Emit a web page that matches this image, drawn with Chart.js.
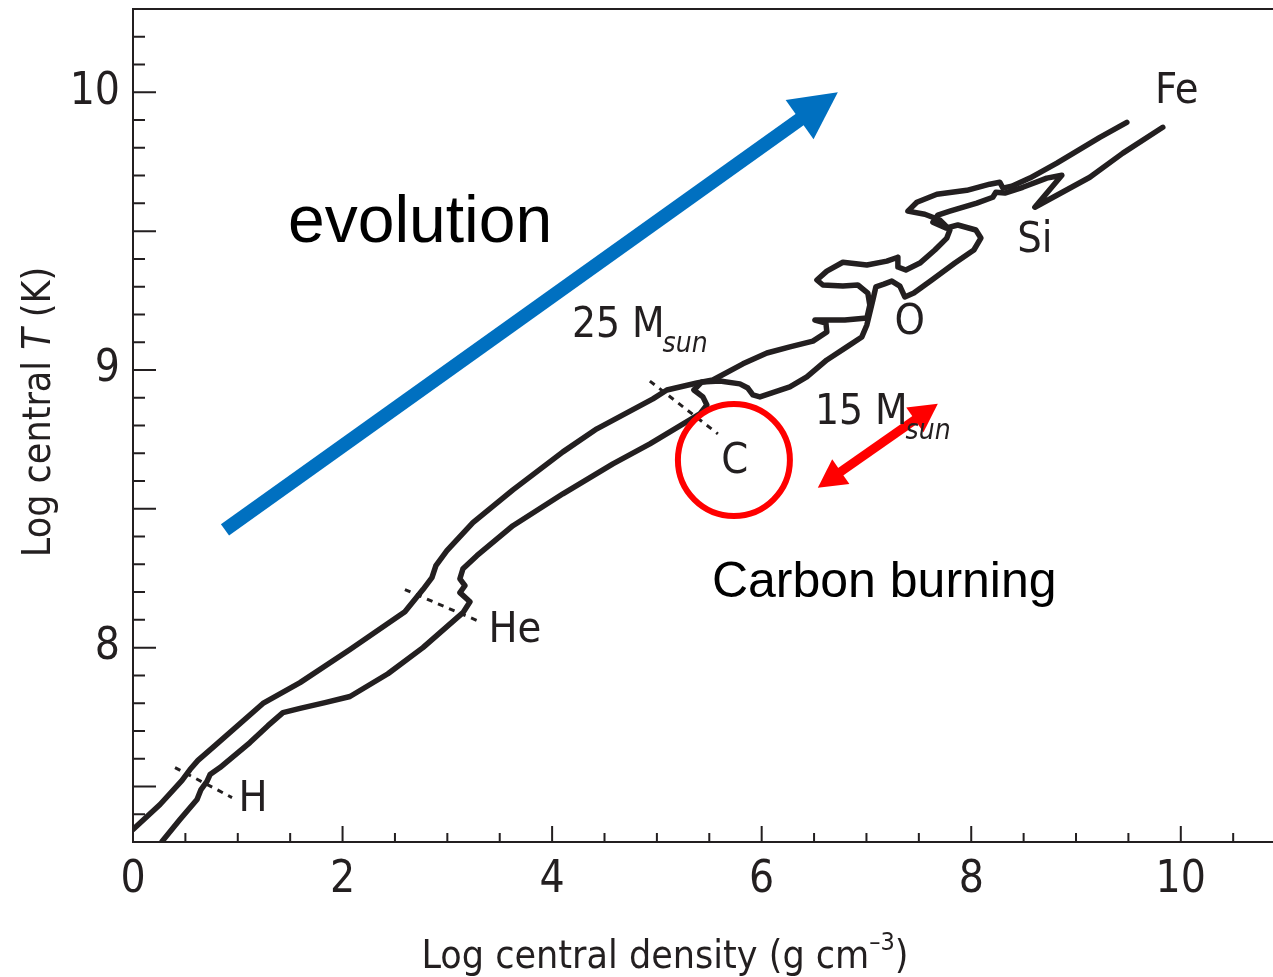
<!DOCTYPE html>
<html>
<head>
<meta charset="utf-8">
<script src="https://cdn.jsdelivr.net/npm/chart.js@4.4.1/dist/chart.umd.min.js"></script>
<style>
  html, body { margin: 0; padding: 0; background: #fff; }
  #chart { display: block; }
</style>
</head>
<body>
<canvas id="chart" width="1273" height="977"></canvas>
<script>
// ---- data ----
const xTickValues = [0, 2, 4, 6, 8, 10];
const yTickValues = [8, 9, 10];
const xMinorTicks = [0.5, 1, 1.5, 2.5, 3, 3.5, 4.5, 5, 5.5, 6.5, 7, 7.5, 8.5, 9, 9.5, 10.5];
const yHalfTicks = [7.5, 8.5, 9.5];
const yMinorTicks = [7.4, 7.6, 7.7, 7.8, 7.9, 8.1, 8.2, 8.3, 8.4, 8.6, 8.7, 8.8, 8.9,
                     9.1, 9.2, 9.3, 9.4, 9.6, 9.7, 9.8, 9.9, 10.1, 10.2];

// 25 Msun track (log rho_c, log T_c)
const track25X = [0, 0.258, 0.468, 0.544, 0.620, 0.782, 1.240, 1.594, 2.071, 2.595,
  2.767, 2.853, 2.891, 2.996, 3.244, 3.626, 4.103, 4.427, 4.962, 5.095,
  5.382, 5.534, 5.821, 6.050, 6.269, 6.489, 6.622, 6.613, 6.508, 6.794,
  7.004, 7.032, 7.013, 6.918, 6.775, 6.584, 6.527, 6.622, 6.775, 7.004,
  7.195, 7.300, 7.300, 7.376, 7.510, 7.653, 7.767, 7.796, 7.700, 7.557,
  7.395, 7.481, 7.672, 7.958, 8.177, 8.273, 8.302, 8.387, 8.559, 8.817,
  9.227, 9.485];
const track25Y = [7.345, 7.435, 7.522, 7.561, 7.594, 7.647, 7.799, 7.874, 7.993, 8.129,
  8.209, 8.252, 8.295, 8.349, 8.450, 8.568, 8.705, 8.788, 8.896, 8.928,
  8.953, 8.964, 9.022, 9.061, 9.083, 9.104, 9.137, 9.169, 9.180, 9.180,
  9.187, 9.234, 9.277, 9.306, 9.302, 9.306, 9.324, 9.356, 9.388, 9.378,
  9.392, 9.406, 9.371, 9.360, 9.385, 9.432, 9.475, 9.504, 9.540, 9.561,
  9.572, 9.604, 9.633, 9.647, 9.669, 9.676, 9.655, 9.662, 9.691, 9.745,
  9.838, 9.892];

// 15 Msun track
const track15X = [0.277, 0.448, 0.611, 0.649, 0.706, 0.735, 0.830, 1.116, 1.288, 1.431,
  1.594, 1.832, 2.071, 2.433, 2.767, 3.149, 3.216, 3.120, 3.168, 3.120,
  3.149, 3.282, 3.626, 4.103, 4.580, 4.933, 5.219, 5.410, 5.477, 5.439,
  5.353, 5.429, 5.601, 5.792, 5.868, 5.916, 5.983, 6.269, 6.431, 6.622,
  6.813, 6.956, 7.004, 7.061, 7.090, 7.166, 7.242, 7.319, 7.366, 7.452,
  7.624, 7.844, 8.025, 8.092, 8.044, 7.872, 7.758, 7.634, 7.681, 7.796,
  8.053, 8.206, 8.235, 8.321, 8.492, 8.721, 8.865, 8.607, 9.132, 9.447,
  9.828];
const track15Y = [7.302, 7.381, 7.453, 7.489, 7.518, 7.543, 7.568, 7.658, 7.719, 7.766,
  7.781, 7.802, 7.824, 7.906, 8.000, 8.126, 8.165, 8.198, 8.223, 8.248,
  8.284, 8.331, 8.439, 8.554, 8.662, 8.734, 8.799, 8.842, 8.874, 8.903,
  8.928, 8.957, 8.960, 8.950, 8.935, 8.910, 8.903, 8.939, 8.975, 9.036,
  9.083, 9.119, 9.162, 9.252, 9.299, 9.309, 9.320, 9.302, 9.263, 9.277,
  9.324, 9.385, 9.432, 9.475, 9.504, 9.522, 9.511, 9.532, 9.558, 9.572,
  9.601, 9.622, 9.640, 9.637, 9.658, 9.691, 9.701, 9.586, 9.694, 9.781,
  9.874];

// burning-stage ignition markers (dotted)
const hMarkX = [0.401, 0.945];
const hMarkY = [7.568, 7.460];
const heMarkX = [2.595, 3.330];
const heMarkY = [8.209, 8.090];
const cMarkX = [4.933, 5.582];
const cMarkY = [8.960, 8.770];

// ---- styling ----
const ink = '#231f20';
const narrow = "'Liberation Sans Narrow', 'DejaVu Sans Condensed', 'Arial Narrow', sans-serif";
const plain = "'Liberation Sans', Arial, sans-serif";

function pts(xs, ys) {
  return xs.map((x, i) => ({ x: x, y: ys[i] }));
}

function trackSet(xs, ys) {
  return {
    data: pts(xs, ys),
    showLine: true,
    borderColor: ink,
    borderWidth: 5.5,
    borderJoinStyle: 'round',
    borderCapStyle: 'round',
    pointRadius: 0,
    tension: 0
  };
}

function markSet(xs, ys) {
  return {
    data: pts(xs, ys),
    showLine: true,
    borderColor: ink,
    borderWidth: 3,
    borderDash: [6, 6],
    pointRadius: 0
  };
}

// annotation places, in data units
const notes = {
  evoArrow: { from: [0.878, 8.424], to: [6.727, 10.0] },
  carbonArrow: { from: [6.536, 8.576], to: [7.681, 8.878] },
  circle: [5.735, 8.676],
  labels: [
    { text: 'Fe', at: [9.962, 10.0] },
    { text: 'Si', at: [8.607, 9.464] },
    { text: 'O', at: [7.414, 9.169] },
    { text: 'C', at: [5.744, 8.669] },
    { text: 'He', at: [3.645, 8.061] },
    { text: 'H', at: [1.145, 7.453] }
  ],
  masses: [
    { text: '25 M', at: [4.189, 9.119] },
    { text: '15 M', at: [6.508, 8.806] }
  ]
};

function arrow(ctx, x0, y0, x1, y1, shaft, headLen, headHalf, both) {
  const ang = Math.atan2(y1 - y0, x1 - x0);
  const c = Math.cos(ang), s = Math.sin(ang);
  const sx0 = both ? x0 + c * headLen * 0.9 : x0;
  const sy0 = both ? y0 + s * headLen * 0.9 : y0;
  ctx.lineWidth = shaft;
  ctx.lineCap = 'butt';
  ctx.beginPath();
  ctx.moveTo(sx0, sy0);
  ctx.lineTo(x1 - c * headLen * 0.9, y1 - s * headLen * 0.9);
  ctx.stroke();
  const head = (tx, ty, dc, ds) => {
    const bx = tx - dc * headLen, by = ty - ds * headLen;
    ctx.beginPath();
    ctx.moveTo(tx, ty);
    ctx.lineTo(bx - ds * headHalf, by + dc * headHalf);
    ctx.lineTo(bx + ds * headHalf, by - dc * headHalf);
    ctx.closePath();
    ctx.fill();
  };
  head(x1, y1, c, s);
  if (both) head(x0, y0, -c, -s);
}

const extras = {
  id: 'extras',
  afterDraw(chart) {
    const { ctx, chartArea: a } = chart;
    const xs = chart.scales.x, ys = chart.scales.y;
    const px = v => xs.getPixelForValue(v);
    const py = v => ys.getPixelForValue(v);
    ctx.save();

    // frame top + inward ticks
    ctx.strokeStyle = ink;
    ctx.lineWidth = 2;
    ctx.beginPath();
    ctx.moveTo(a.left, a.top);
    ctx.lineTo(a.right, a.top);
    xTickValues.forEach(v => { ctx.moveTo(px(v), a.bottom); ctx.lineTo(px(v), a.bottom - 16); });
    xMinorTicks.forEach(v => { ctx.moveTo(px(v), a.bottom); ctx.lineTo(px(v), a.bottom - 9); });
    yTickValues.concat(yHalfTicks).forEach(v => { ctx.moveTo(a.left, py(v)); ctx.lineTo(a.left + 23, py(v)); });
    yMinorTicks.forEach(v => { ctx.moveTo(a.left, py(v)); ctx.lineTo(a.left + 12, py(v)); });
    ctx.stroke();

    // blue evolution arrow
    ctx.strokeStyle = '#0070c0';
    ctx.fillStyle = '#0070c0';
    const e = notes.evoArrow;
    arrow(ctx, px(e.from[0]), py(e.from[1]), px(e.to[0]), py(e.to[1]), 14, 47, 24, false);

    // red circle and double arrow
    ctx.strokeStyle = '#ff0000';
    ctx.fillStyle = '#ff0000';
    ctx.lineWidth = 6;
    ctx.beginPath();
    ctx.arc(px(notes.circle[0]), py(notes.circle[1]), 56, 0, Math.PI * 2);
    ctx.stroke();
    const r = notes.carbonArrow;
    arrow(ctx, px(r.from[0]), py(r.from[1]), px(r.to[0]), py(r.to[1]), 9, 28, 15, true);

    // stage labels
    ctx.fillStyle = ink;
    ctx.font = '43px ' + narrow;
    ctx.textAlign = 'center';
    ctx.textBaseline = 'middle';
    notes.labels.forEach(l => ctx.fillText(l.text, px(l.at[0]), py(l.at[1])));

    ctx.textAlign = 'left';
    ctx.textBaseline = 'alphabetic';
    notes.masses.forEach(m => {
      const x0 = px(m.at[0]), y0 = py(m.at[1]);
      ctx.font = '42px ' + narrow;
      ctx.fillText(m.text, x0, y0);
      const w = ctx.measureText(m.text).width;
      ctx.font = 'italic 28px ' + narrow;
      ctx.fillText('sun', x0 + w - 2, y0 + 15);
    });

    // big annotations
    ctx.fillStyle = '#000';
    ctx.font = '66px ' + plain;
    ctx.fillText('evolution', px(1.479), py(9.460));
    ctx.font = '50px ' + plain;
    ctx.fillText('Carbon burning', px(5.525), py(8.183));

    // axis titles
    ctx.fillStyle = ink;
    ctx.font = '39px ' + narrow;
    const t1 = 'Log central density (g cm', t2 = '\u20133', t3 = ')';
    const w1 = ctx.measureText(t1).width;
    const w3 = ctx.measureText(t3).width;
    ctx.font = '25px ' + narrow;
    const w2 = ctx.measureText(t2).width;
    let x = 665 - (w1 + w2 + w3) / 2;
    const base = 968;
    ctx.font = '39px ' + narrow;
    ctx.fillText(t1, x, base);
    x += w1;
    ctx.font = '25px ' + narrow;
    ctx.fillText(t2, x, base - 18);
    x += w2;
    ctx.font = '39px ' + narrow;
    ctx.fillText(t3, x, base);

    ctx.translate(50, 412);
    ctx.rotate(-Math.PI / 2);
    const p1 = 'Log central ', p2 = 'T', p3 = ' (K)';
    ctx.font = '39px ' + narrow;
    const q1 = ctx.measureText(p1).width, q3 = ctx.measureText(p3).width;
    ctx.font = 'italic 39px ' + narrow;
    const q2 = ctx.measureText(p2).width;
    let yx = -(q1 + q2 + q3) / 2;
    ctx.font = '39px ' + narrow;
    ctx.fillText(p1, yx, 0);
    yx += q1;
    ctx.font = 'italic 39px ' + narrow;
    ctx.fillText(p2, yx, 0);
    yx += q2;
    ctx.font = '39px ' + narrow;
    ctx.fillText(p3, yx, 0);

    ctx.restore();
  }
};

new Chart(document.getElementById('chart').getContext('2d'), {
  type: 'scatter',
  data: {
    datasets: [
      trackSet(track25X, track25Y),
      trackSet(track15X, track15Y),
      markSet(hMarkX, hMarkY),
      markSet(heMarkX, heMarkY),
      markSet(cMarkX, cMarkY)
    ]
  },
  options: {
    responsive: false,
    animation: false,
    layout: { autoPadding: false, padding: { top: 9, right: 0, left: 0, bottom: 0 } },
    plugins: { legend: { display: false }, tooltip: { enabled: false } },
    scales: {
      x: {
        type: 'linear',
        min: 0,
        max: 10.88,
        afterFit(s) {
          s.height = 135;
          s.paddingLeft = 0;
          s.paddingRight = 0;
        },
        afterBuildTicks(s) { s.ticks = xTickValues.map(v => ({ value: v })); },
        grid: { display: false, drawTicks: false },
        border: { display: true, color: ink, width: 2 },
        ticks: { color: ink, font: { family: narrow, size: 44 }, padding: 12, maxRotation: 0 }
      },
      y: {
        type: 'linear',
        min: 7.3,
        max: 10.3,
        afterFit(s) {
          s.width = 133;
          s.paddingTop = 0;
          s.paddingBottom = 0;
        },
        afterBuildTicks(s) { s.ticks = yTickValues.map(v => ({ value: v })); },
        grid: { display: false, drawTicks: false },
        border: { display: true, color: ink, width: 2 },
        ticks: { color: ink, font: { family: narrow, size: 44 }, padding: 13 }
      }
    }
  },
  plugins: [extras]
});
</script>
</body>
</html>
